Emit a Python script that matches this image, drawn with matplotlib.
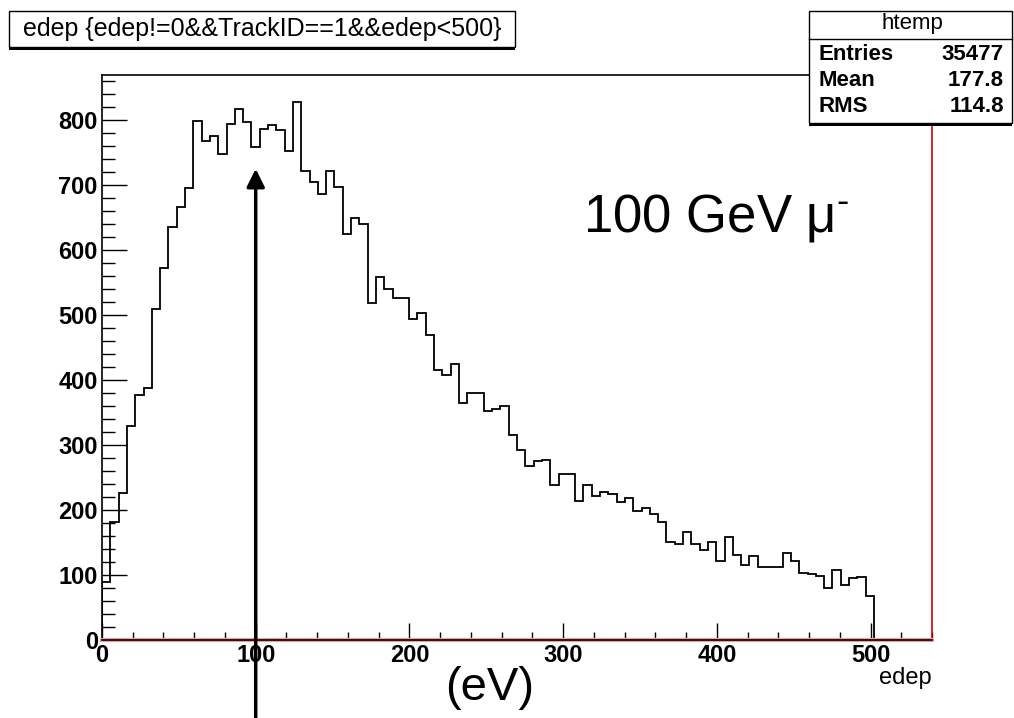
import numpy as np
import matplotlib
matplotlib.use("Agg")
import matplotlib.pyplot as plt
from matplotlib.patches import Rectangle
from matplotlib.ticker import MultipleLocator

plt.rcParams['font.family'] = ['Liberation Sans', 'DejaVu Sans']
plt.rcParams['mathtext.fontset'] = 'custom'
plt.rcParams['mathtext.rm'] = 'Liberation Sans'
plt.rcParams['mathtext.it'] = 'Liberation Sans'

# histogram contents (bin width 5.4, 100 bins on 0..540)
bin_width = 5.4
n_axis_bins = 100
counts = [90, 182, 226, 329, 377, 387, 510, 572, 636, 667,
          695, 798, 768, 776, 748, 794, 817, 797, 758, 786,
          792, 784, 753, 828, 721, 705, 686, 721, 697, 625,
          649, 640, 518, 558, 540, 526, 526, 494, 503, 470,
          416, 408, 425, 364, 380, 380, 353, 356, 360, 316,
          292, 268, 275, 277, 238, 256, 256, 214, 238, 221,
          227, 225, 212, 219, 199, 203, 194, 181, 151, 148,
          166, 147, 139, 151, 122, 159, 131, 115, 130, 112,
          112, 112, 134, 121, 103, 102, 99, 80, 107, 84,
          95, 97, 68]

title = "edep {edep!=0&&TrackID==1&&edep<500}"
stats_name = "htemp"
stats_rows = [("Entries", "35477"), ("Mean", "177.8"), ("RMS", "114.8")]

edges = np.arange(len(counts) + 1) * bin_width
xmax = n_axis_bins * bin_width
ymax = 1.05 * max(counts)

W, H = 1014, 718
fig = plt.figure(figsize=(W / 100, H / 100), dpi=100)
ax = fig.add_axes([102 / W, 1 - 640 / H, 830 / W, 565 / H])

ax.stairs(counts, edges, baseline=0, color='black', lw=1.3)
ax.set_xlim(0, xmax)
ax.set_ylim(0, ymax)

ax.xaxis.set_major_locator(MultipleLocator(100))
ax.xaxis.set_minor_locator(MultipleLocator(20))
ax.yaxis.set_major_locator(MultipleLocator(100))
ax.yaxis.set_minor_locator(MultipleLocator(20))
ax.tick_params(axis='x', which='major', direction='in', length=12, width=1, pad=3,
               labelsize=17)
ax.tick_params(axis='x', which='minor', direction='in', length=6, width=1)
ax.tick_params(axis='y', which='major', direction='in', length=18, width=1, pad=3,
               labelsize=17)
ax.tick_params(axis='y', which='minor', direction='in', length=9, width=1)
for lab in ax.get_xticklabels() + ax.get_yticklabels():
    lab.set_fontweight('bold')

for s in ['left', 'top']:
    ax.spines[s].set_color('black')
    ax.spines[s].set_linewidth(1.2)
ax.spines['right'].set_color('#d00000')
ax.spines['right'].set_linewidth(1.2)
ax.spines['bottom'].set_color('#f0a0a0')
ax.spines['bottom'].set_linewidth(3)
ax.axhline(0, color='black', lw=1.2, clip_on=False, zorder=3)

ax.set_xlabel("edep", fontsize=17, loc='right', labelpad=0)

# arrow pointing at the peak
ax.annotate('', xy=(100, 725), xycoords='data',
            xytext=(100, 0), textcoords=('data', 'figure fraction'),
            arrowprops=dict(arrowstyle='-|>,head_length=0.4,head_width=0.2',
                            lw=2.5, color='black', mutation_scale=27,
                            shrinkA=0, shrinkB=0),
            annotation_clip=False)

fig.text(583 / W, 1 - 218 / H, r"100 GeV $\mathrm{\mu}^{\text{-}}$", fontsize=38,
         ha='left', va='center')
fig.text(490 / W, 1 - 688 / H, "(eV)", fontsize=34, ha='center', va='center')

# title box
def pave(x0, y0, x1, y1, z=5):
    fig.patches.append(Rectangle((x0 / W, 1 - (y1 + 3) / H), (x1 - x0) / W, 3 / H,
                                 transform=fig.transFigure, facecolor='black',
                                 edgecolor='none', zorder=z))
    fig.patches.append(Rectangle((x0 / W, 1 - y1 / H), (x1 - x0) / W, (y1 - y0) / H,
                                 transform=fig.transFigure, facecolor='white',
                                 edgecolor='black', lw=1.0, zorder=z + 1))

pave(9, 11, 515, 47)
fig.text(262 / W, 1 - 29 / H, title, fontsize=18, ha='center', va='center', zorder=10)

# stats box
pave(809, 11, 1012, 123)
fig.add_artist(plt.Line2D([809 / W, 1012 / W], [1 - 39 / H, 1 - 39 / H],
                          color='black', lw=1.0, zorder=8))
fig.text(912 / W, 1 - 24 / H, stats_name, fontsize=16, ha='center', va='center',
         zorder=10)
for i, (k, v) in enumerate(stats_rows):
    yy = 1 - (55 + 26 * i) / H
    fig.text(818 / W, yy, k, fontsize=16, fontweight='bold', ha='left', va='center',
             zorder=10)
    fig.text(1004 / W, yy, v, fontsize=16, fontweight='bold', ha='right', va='center',
             zorder=10)

fig.savefig("out.png", dpi=100)
